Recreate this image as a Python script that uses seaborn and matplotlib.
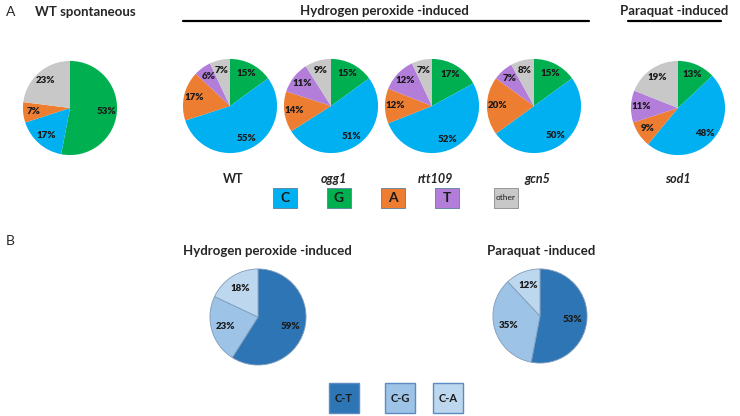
import seaborn as sns
import matplotlib.pyplot as plt
from matplotlib.patches import Rectangle
from matplotlib.lines import Line2D

# Données (pourcentages)
bases = ["G", "C", "A", "T", "other"]
legend_bases = ["C", "G", "A", "T", "other"]
base_colors = {"C": "#00B0F0", "G": "#00B050", "A": "#ED7D31", "T": "#B27ED9", "other": "#C8C8C8"}

wt_spont = [53, 17, 7, 0, 23]
h2o2_genotypes = ["WT", "ogg1", "rtt109", "gcn5"]
h2o2_values = [
    [15, 55, 17, 6, 7],
    [15, 51, 14, 11, 9],
    [17, 52, 12, 12, 7],
    [15, 50, 20, 7, 8],
]
paraquat_genotype = "sod1"
paraquat_values = [13, 48, 9, 11, 19]

subs = ["C-T", "C-G", "C-A"]
sub_colors = ["#2E75B6", "#9DC3E6", "#BDD7EE"]
sub_h2o2 = [59, 23, 18]
sub_paraquat = [53, 35, 12]

sns.set_theme(style="white")
plt.rcParams['font.family'] = ['Lato', 'DejaVu Sans']

W, H = 740, 416
fig = plt.figure(figsize=(W / 100, H / 100), dpi=100)


def px(x, y):
    return x / W, 1 - y / H


def pie_at(cx, cy, r, values, colors, dist, edge=None):
    ax = fig.add_axes([(cx - r) / W, 1 - (cy + r) / H, 2 * r / W, 2 * r / H])
    wedgeprops = {"linewidth": 0}
    if edge:
        wedgeprops = {"linewidth": 0.6, "edgecolor": edge}
    ax.pie(values, colors=colors, startangle=90, counterclock=False, radius=1,
           autopct=lambda p: f"{p:.0f}%" if p > 0.5 else "", pctdistance=dist,
           wedgeprops=wedgeprops,
           textprops={"fontsize": 7, "fontweight": "heavy", "color": "#1a1a1a"})
    ax.set_xlim(-1.02, 1.02)
    ax.set_ylim(-1.02, 1.02)
    ax.axis("off")
    return ax


def text_at(x, y, s, **kw):
    fig.text(*px(x, y), s, ha="center", va="center", **kw)


cols = [base_colors[b] for b in bases]
title_fs = 9.5

# Panneau A
text_at(11, 12, "A", fontsize=10)
text_at(85, 12, "WT spontaneous", fontsize=title_fs, fontweight="bold")
pie_at(70, 108, 48, wt_spont, cols, 0.78)

text_at(384, 11, "Hydrogen peroxide -induced", fontsize=title_fs, fontweight="bold")
fig.add_artist(Line2D([183 / W, 589 / W], [1 - 21 / H, 1 - 21 / H], color="black", lw=1.6))
text_at(674, 11, "Paraquat -induced", fontsize=title_fs, fontweight="bold")
fig.add_artist(Line2D([628 / W, 721 / W], [1 - 21 / H, 1 - 21 / H], color="black", lw=1.6))

centers = [230, 331, 432, 534]
for cx, g, vals in zip(centers, h2o2_genotypes, h2o2_values):
    pie_at(cx, 106, 48, vals, cols, 0.78)
    style = "normal" if g == "WT" else "italic"
    text_at(cx + 3, 179, g, fontsize=9, fontweight="bold", style=style)

pie_at(678, 108, 48, paraquat_values, cols, 0.78)
text_at(678, 179, paraquat_genotype, fontsize=9, fontweight="bold", style="italic")

# Légende A
box_x = [273, 327, 381, 435, 494]
for bx, b in zip(box_x, legend_bases):
    fig.add_artist(Rectangle(px(bx, 208), 24 / W, 20 / H, facecolor=base_colors[b],
                             edgecolor="#8a8a8a" if b == "other" else "#5a7fa0", lw=0.6))
    if b == "other":
        text_at(bx + 12, 198, b, fontsize=6, color="#1a1a1a")
    else:
        text_at(bx + 12, 198, b, fontsize=10, fontweight="bold", color="#1a1a1a")

# Panneau B
text_at(10, 241, "B", fontsize=10)
text_at(267, 251, "Hydrogen peroxide -induced", fontsize=title_fs, fontweight="bold")
pie_at(258, 317, 49, sub_h2o2, sub_colors, 0.7, edge="#7F9CBA")
text_at(541, 251, "Paraquat -induced", fontsize=title_fs, fontweight="bold")
pie_at(540, 316, 48, sub_paraquat, sub_colors, 0.7, edge="#7F9CBA")

sub_box_x = [329, 385, 433]
for bx, s, c in zip(sub_box_x, subs, sub_colors):
    fig.add_artist(Rectangle(px(bx, 413), 30 / W, 30 / H, facecolor=c,
                             edgecolor="#5B8BC0", lw=1.0))
    text_at(bx + 15, 398, s, fontsize=8, fontweight="bold", color="#1a1a1a")

fig.savefig("out.png", dpi=100)
